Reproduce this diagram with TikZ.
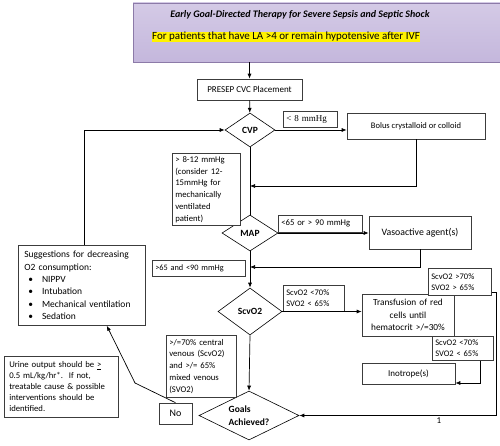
\documentclass[tikz,border=0pt]{standalone}
\usepackage{fontspec}
\setmainfont{Carlito}
\newfontfamily\cambriafont{Liberation Serif}
\usetikzlibrary{positioning,arrows.meta,shapes.geometric}

\definecolor{lavtop}{RGB}{212,202,230}
\definecolor{lavmid}{RGB}{238,234,245}
\definecolor{lavbot}{RGB}{196,183,220}
\definecolor{lavline}{RGB}{140,122,168}
\definecolor{boxline}{RGB}{60,60,60}

\tikzset{
  header/.style={draw=lavline,line width=0.8pt,top color=lavtop,middle color=lavmid,bottom color=lavbot},
  stepbox/.style={draw=boxline,line width=0.6pt,fill=white,align=center,inner sep=2pt,font=\fontsize{9}{12}\selectfont},
  tagbox/.style={draw=boxline,line width=0.6pt,fill=white,align=left,inner sep=3pt,anchor=north west,font=\fontsize{8.7}{11.8}\selectfont},
  decide/.style={diamond,draw=black,line width=0.6pt,fill=white,inner sep=0pt,aspect=2,font=\bfseries\fontsize{9.5}{12.5}\selectfont},
  flow/.style={line width=0.7pt,-{Latex[length=5pt,width=4pt]}},
  plain/.style={line width=0.7pt}
}

\begin{document}
\begin{tikzpicture}[x=1pt,y=-1pt]
\useasboundingbox (0,0) rectangle (500,446);

% header
\node[header,minimum width=367pt,minimum height=59pt] (head) at (316.5,32.5) {};
\node[font=\bfseries\itshape\fontsize{10}{12}\selectfont] (title) at (300,15) {Early Goal-Directed Therapy for Severe Sepsis and Septic Shock};
\node[fill=yellow,inner sep=0.6pt,font=\fontsize{11}{13}\selectfont] (crit) at (286,37) {For patients that have LA >4 or remain hypotensive after IVF};

% main column
\node[stepbox,minimum width=105pt,minimum height=21pt] (presep) at (249.5,89.5) {PRESEP CVC Placement};
\node[decide,minimum width=50pt,minimum height=34pt] (cvp) at (250,130) {CVP};
\node[decide,minimum width=56pt,minimum height=36pt] (map) at (250,233) {MAP};
\node[decide,minimum width=64pt,minimum height=47pt] (scvo2) at (250,311.5) {ScvO2};
\node[decide,minimum width=100pt,minimum height=49pt,align=left] (goals) at (249,415.5) {Goals\\Achieved?};

% actions
\node[stepbox,font=\fontsize{8.5}{11}\selectfont,minimum width=138pt,minimum height=26pt] (bolus) at (416,126) {Bolus crystalloid or colloid};
\node[stepbox,font=\fontsize{9.8}{12}\selectfont,minimum width=102pt,minimum height=33pt] (vaso) at (420,232.5) {Vasoactive agent(s)};
\node[stepbox,font=\fontsize{9.3}{12.3}\selectfont,minimum width=92pt,minimum height=42pt,text width=88pt] (transf) at (408,315) {Transfusion of red\\cells until\\hematocrit >/=30\%};
\node[stepbox,minimum width=93pt,minimum height=21pt] (inotrope) at (408.5,373.5) {Inotrope(s)};
\node[stepbox,font=\fontsize{10}{12}\selectfont,minimum width=33pt,minimum height=21pt] (no) at (175.5,413.5) {No};

% condition labels
\node[tagbox,font=\cambriafont\fontsize{9}{11}\selectfont,text width=48pt,minimum height=16pt] (lteight) at (283,111) {< 8 mmHg};
\node[tagbox,text width=62pt,minimum height=71pt] (normcvp) at (172,153) {> 8-12 mmHg\\(consider 12-\\15mmHg for\\mechanically\\ventilated\\patient)};
\node[tagbox,text width=78pt,minimum height=17pt] (badmap) at (278,215) {<65 or > 90 mmHg};
\node[tagbox,font=\fontsize{8.3}{11}\selectfont,text width=87pt,minimum height=16pt] (okmap) at (152,260) {>65 and <90 mmHg};
\node[tagbox,font=\fontsize{8.5}{11}\selectfont,text width=55pt,minimum height=26pt] (lowsat) at (283,285) {ScvO2 <70\%\\SVO2 < 65\%};
\node[tagbox,font=\fontsize{8.5}{11}\selectfont,text width=57pt,minimum height=27pt] (highsat) at (428,268) {ScvO2 >70\%\\SVO2 > 65\%};
\node[tagbox,font=\fontsize{8.5}{11}\selectfont,text width=55pt,minimum height=24pt] (stilllow) at (432,336) {ScvO2 <70\%\\SVO2 < 65\%};
\node[tagbox,text width=64pt,minimum height=62pt] (oksat) at (166,335) {>/=70\% central\\venous (ScvO2)\\and >/= 65\%\\mixed venous\\(SVO2)};

% side notes
\node[tagbox,font=\fontsize{9.5}{12.3}\selectfont,text width=115pt,minimum height=80pt,inner sep=6pt] (sugg) at (18,245) {Suggestions for decreasing\\O2 consumption:\\
\hspace*{4pt}\textbullet\hspace{9pt}NIPPV\\
\hspace*{4pt}\textbullet\hspace{9pt}Intubation\\
\hspace*{4pt}\textbullet\hspace{9pt}Mechanical ventilation\\
\hspace*{4pt}\textbullet\hspace{9pt}Sedation};
\node[tagbox,font=\fontsize{8.7}{11}\selectfont,text width=104pt,minimum height=61pt,inner sep=5pt] (urine) at (4,356) {Urine output should be \underline{>}\\0.5 mL/kg/hr*.\ \ If not,\\treatable cause \& possible\\interventions should be\\identified.};

% turning points
\coordinate (bolusturn) at (416,186);
\coordinate (vasoturn) at (420,267);
\coordinate (highturn) at (496,292);
\coordinate (goalsturn) at (496,415.5);
\coordinate (inoturn) at (480,383);
\coordinate (suggturn) at (84,130);
\coordinate (nobend) at (135,383);

% connectors
\draw[flow] (head.south -| presep.north) -- (presep.north);
\draw[flow] (presep) -- (cvp);
\draw[flow] (cvp.east) -- (bolus.west |- cvp.east);
\draw[flow] (bolus.south) -- (bolusturn) -- (bolusturn -| cvp.south);
\draw[plain] (cvp.south) -- (map.north);
\draw[flow] (map.east) -- (vaso.west |- map.east);
\draw[flow] (vaso.south) -- (vasoturn) -- (vasoturn -| map.south);
\draw[flow] (map.south) -- (scvo2.north);
\draw[flow] (scvo2.east) -- (transf.west |- scvo2.east);
\draw[flow] (scvo2.south) -- (goals.north);
\draw[flow] (highsat.east |- highturn) -- (highturn) -- (goalsturn)
  -- node[pos=0.29,below=-1pt,font=\fontsize{9}{10}\selectfont] (one) {1} (goals.east);
\draw[flow] (stilllow.south -| inoturn) -- (inoturn) -- (inoturn -| inotrope.east);
\draw[flow] (sugg.north -| suggturn) -- (suggturn) -- (cvp.west);
\draw[flow] (no.north) -- (nobend) -- ([xshift=25pt]sugg.south);
\end{tikzpicture}
\end{document}
